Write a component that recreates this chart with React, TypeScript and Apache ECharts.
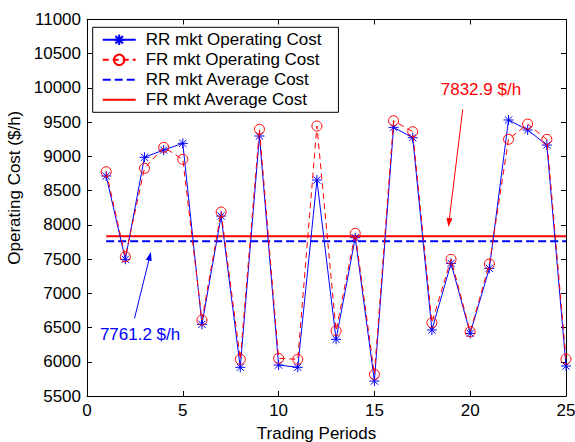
import React, { useEffect, useRef } from "react";
import * as echarts from "echarts";

const periods = [1, 2, 3, 4, 5, 6, 7, 8, 9, 10, 11, 12, 13, 14, 15, 16, 17, 18, 19, 20, 21, 22, 23, 24, 25];
const rrOperatingCost = [8714, 7497, 8987, 9093, 9191, 6547, 8129, 5919, 9298, 5952, 5919, 8655, 6328, 7812, 5718, 9425, 9273, 6464, 7438, 6415, 7365, 9532, 9386, 9166, 5938];
const frOperatingCost = [8776, 7535, 8826, 9133, 8958, 6610, 8188, 6036, 9396, 6050, 6036, 9444, 6453, 7876, 5816, 9521, 9361, 6570, 7497, 6439, 7428, 9250, 9473, 9250, 6040];
const rrAverageCost = 7761.2;
const frAverageCost = 7832.9;
const seriesNames = ["RR mkt Operating Cost", "FR mkt Operating Cost", "RR mkt Average Cost", "FR mkt Average Cost"];
const xRange = [0, 25];
const xTickStep = 5;
const yRange = [5500, 11000];
const yTickStep = 500;
const xTitle = "Trading Periods";
const yTitle = "Operating Cost ($/h)";

// annotations (data coordinates)
const frLabel = "7832.9 $/h";
const frLabelAt = [20.56, 9977];
const frArrowFrom = [19.61, 9688];
const frArrowTo = [18.89, 8034];
const rrLabel = "7761.2 $/h";
const rrLabelAt = [2.77, 6405];
const rrArrowFrom = [2.48, 6635];
const rrArrowTo = [3.28, 7543];

const FONT = "Arial, 'Liberation Sans', Helvetica, sans-serif";
const BLUE = "#0000ff";
const RED = "#ff0000";
const CLEAR = "rgba(0,0,0,0)";
const STAR = "path://M0,-6L0,6M-6,0L6,0M-4.3,-4.3L4.3,4.3M-4.3,4.3L4.3,-4.3";
const ARROW = "path://M5,0L10,14L0,14Z";

export default function App() {
  const ref = useRef<HTMLDivElement>(null);
  useEffect(() => {
    if (!ref.current) return;
    const chart = echarts.init(ref.current, undefined, { renderer: "svg" });
    const axisLine = { show: true, onZero: false, lineStyle: { color: "#000", width: 1 } };
    const tick = { show: true, inside: true, length: 5, lineStyle: { color: "#000" } };
    const plain = (v: number) => String(v);
    const avgStart = periods[0];
    const avgEnd = periods[periods.length - 1];
    const option: any = {
      animation: false,
      backgroundColor: "#fff",
      textStyle: { fontFamily: FONT },
      grid: { left: 87, right: 9, top: 19.5, bottom: 46, containLabel: false, outerBoundsMode: "none" },
      legend: {
        data: seriesNames,
        orient: "vertical",
        left: 92.7,
        top: 27.3,
        padding: [4, 17, 4, 9],
        itemWidth: 33,
        itemHeight: 13,
        itemGap: 3,
        backgroundColor: "#fff",
        borderColor: "#000",
        borderWidth: 1,
        borderRadius: 0,
        selectedMode: false,
        textStyle: { fontSize: 17, color: "#000", fontFamily: FONT, lineHeight: 17, padding: [0, 0, 0, 5] },
      },
      xAxis: [
        {
          type: "value",
          min: xRange[0],
          max: xRange[1],
          interval: xTickStep,
          position: "bottom",
          axisLine,
          axisTick: tick,
          splitLine: { show: false },
          axisLabel: { fontSize: 17, color: "#000", margin: 6, fontFamily: FONT, formatter: plain },
          name: xTitle,
          nameLocation: "middle",
          nameGap: 29,
          nameTextStyle: { fontSize: 17, color: "#000", fontFamily: FONT, lineHeight: 17, padding: [0, 20, 0, 0] },
        },
        {
          type: "value",
          min: xRange[0],
          max: xRange[1],
          interval: xTickStep,
          position: "top",
          axisLine,
          axisTick: tick,
          splitLine: { show: false },
          axisLabel: { show: false },
        },
      ],
      yAxis: [
        {
          type: "value",
          min: yRange[0],
          max: yRange[1],
          interval: yTickStep,
          position: "left",
          axisLine,
          axisTick: tick,
          splitLine: { show: false },
          axisLabel: { fontSize: 17, color: "#000", margin: 6, fontFamily: FONT, formatter: plain },
          name: yTitle,
          nameLocation: "middle",
          nameGap: 55,
          nameTextStyle: { fontSize: 17, color: "#000", fontFamily: FONT, lineHeight: 17, padding: [0, 0, 0, 40] },
        },
        {
          type: "value",
          min: yRange[0],
          max: yRange[1],
          interval: yTickStep,
          position: "right",
          axisLine,
          axisTick: tick,
          splitLine: { show: false },
          axisLabel: { show: false },
        },
      ],
      series: [
        {
          name: seriesNames[0],
          type: "line",
          data: periods.map((p, i) => [p, rrOperatingCost[i]]),
          symbol: STAR,
          symbolSize: 10,
          showAllSymbol: true,
          lineStyle: { color: BLUE, width: 1 },
          itemStyle: { color: BLUE, borderColor: BLUE, borderWidth: 1 },
          emphasis: { disabled: true },
          z: 3,
        },
        {
          name: seriesNames[1],
          type: "line",
          data: periods.map((p, i) => [p, frOperatingCost[i]]),
          symbol: "circle",
          symbolSize: 10,
          showAllSymbol: true,
          lineStyle: { color: RED, width: 1, type: [6, 4] },
          itemStyle: { color: CLEAR, borderColor: RED, borderWidth: 1 },
          emphasis: { disabled: true },
          z: 4,
        },
        {
          name: seriesNames[2],
          type: "line",
          data: [[avgStart, rrAverageCost], [avgEnd, rrAverageCost]],
          symbol: "circle",
          showSymbol: false,
          lineStyle: { color: BLUE, width: 2, type: [8, 4] },
          itemStyle: { color: CLEAR, borderColor: CLEAR, borderWidth: 0 },
          emphasis: { disabled: true },
          z: 2,
          markLine: {
            silent: true,
            animation: false,
            symbol: ["none", ARROW],
            label: { show: false },
            itemStyle: { color: BLUE },
            lineStyle: { color: BLUE, width: 1, type: "solid" },
            emphasis: { disabled: true },
            data: [[{ coord: rrArrowFrom }, { coord: rrArrowTo, symbolSize: [6, 9] }]],
          },
          markPoint: {
            silent: true,
            animation: false,
            symbol: "rect",
            symbolSize: 1,
            itemStyle: { color: CLEAR },
            label: { show: true, position: "inside", color: BLUE, fontSize: 17, fontFamily: FONT, formatter: () => rrLabel },
            data: [{ coord: rrLabelAt }],
          },
        },
        {
          name: seriesNames[3],
          type: "line",
          data: [[avgStart, frAverageCost], [avgEnd, frAverageCost]],
          symbol: "circle",
          showSymbol: false,
          lineStyle: { color: RED, width: 2 },
          itemStyle: { color: CLEAR, borderColor: CLEAR, borderWidth: 0 },
          emphasis: { disabled: true },
          z: 2,
          markLine: {
            silent: true,
            animation: false,
            symbol: ["none", ARROW],
            label: { show: false },
            itemStyle: { color: RED },
            lineStyle: { color: RED, width: 1, type: "solid" },
            emphasis: { disabled: true },
            data: [[{ coord: frArrowFrom }, { coord: frArrowTo, symbolSize: [6, 9] }]],
          },
          markPoint: {
            silent: true,
            animation: false,
            symbol: "rect",
            symbolSize: 1,
            itemStyle: { color: CLEAR },
            label: { show: true, position: "inside", color: RED, fontSize: 17, fontFamily: FONT, formatter: () => frLabel },
            data: [{ coord: frLabelAt }],
          },
        },
      ],
    };
    chart.setOption(option);
    return () => chart.dispose();
  }, []);
  return (
    <div
      ref={ref}
      style={{ position: "fixed", left: 0, top: 0, width: 575, height: 442, background: "#fff" }}
    />
  );
}
